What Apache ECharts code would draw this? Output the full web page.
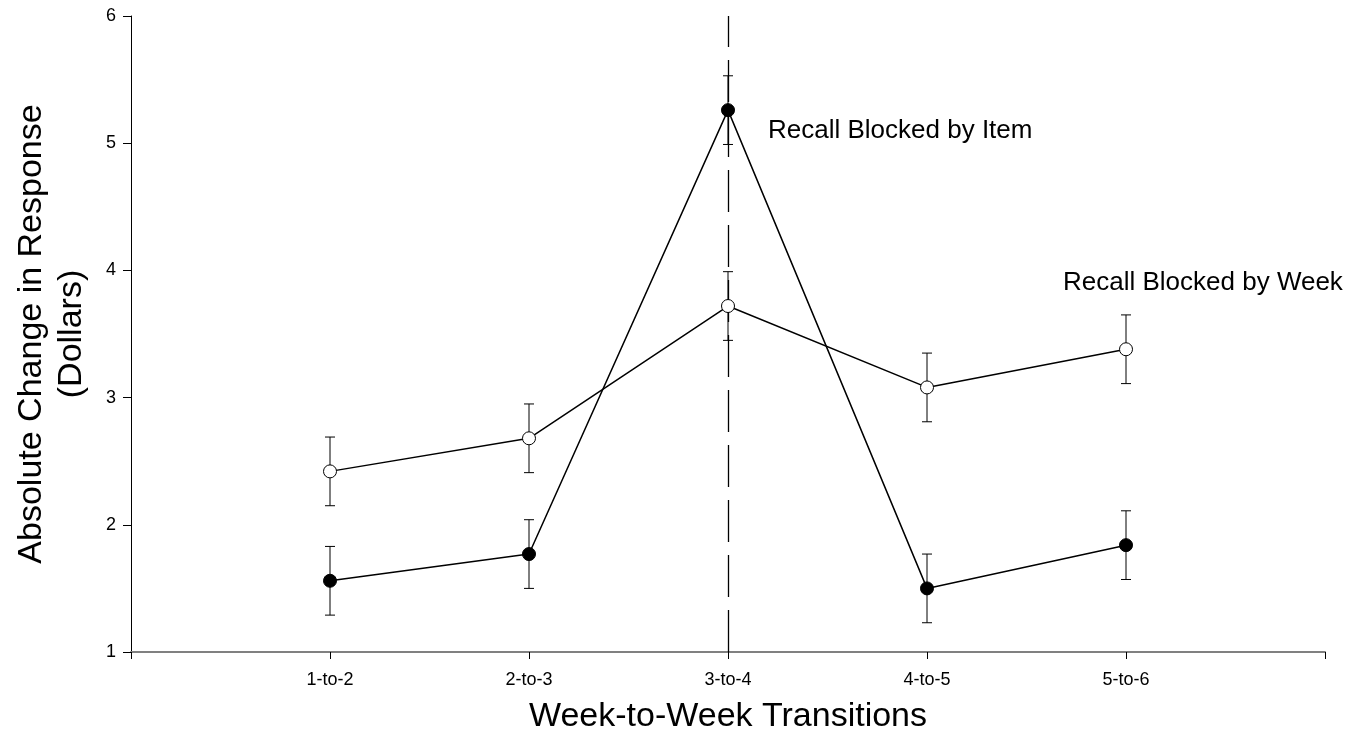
<!DOCTYPE html>
<html>
<head>
<meta charset="utf-8">
<script src="https://cdn.jsdelivr.net/npm/echarts@6/dist/echarts.min.js"></script>
<style>html,body{margin:0;padding:0;background:#fff;}#c{width:1357px;height:746px;}</style>
</head>
<body>
<div id="c"></div>
<script>
var categories = ['1-to-2', '2-to-3', '3-to-4', '4-to-5', '5-to-6'];
var itemValues = [1.56, 1.77, 5.26, 1.50, 1.84];
var itemErrors = [0.27, 0.27, 0.27, 0.27, 0.27];
var weekValues = [2.42, 2.68, 3.72, 3.08, 3.38];
var weekErrors = [0.27, 0.27, 0.27, 0.27, 0.27];
var yTicks = [1, 2, 3, 4, 5, 6];
var dividerAt = 3;

var FONT = '"Liberation Sans", Arial, sans-serif';
function pts(vals) { return vals.map(function (v, i) { return [i + 1, v]; }); }
function errs(vals, e) { return vals.map(function (v, i) { return [i + 1, v - e[i], v + e[i]]; }); }

function errRender(params, api) {
  var x = api.value(0);
  var lo = api.coord([x, api.value(1)]);
  var hi = api.coord([x, api.value(2)]);
  var w = 5;
  var st = { stroke: '#000', lineWidth: 1 };
  return { type: 'group', children: [
    { type: 'line', shape: { x1: lo[0], y1: lo[1], x2: hi[0], y2: hi[1] }, style: st },
    { type: 'line', shape: { x1: lo[0] - w, y1: lo[1], x2: lo[0] + w, y2: lo[1] }, style: st },
    { type: 'line', shape: { x1: hi[0] - w, y1: hi[1], x2: hi[0] + w, y2: hi[1] }, style: st }
  ]};
}

var chart = echarts.init(document.getElementById('c'));
chart.setOption({
  animation: false,
  backgroundColor: '#fff',
  grid: { left: 131, right: 32, top: 16, bottom: 94, containLabel: false },
  xAxis: {
    type: 'value', min: 0, max: categories.length + 1, interval: 1,
    splitLine: { show: false },
    axisLine: { onZero: false, lineStyle: { color: '#808080', width: 2 } },
    axisTick: { length: 7, lineStyle: { color: '#000', width: 1 } },
    axisLabel: { margin: 19, fontSize: 18, color: '#000', fontFamily: FONT,
      formatter: function (v) { return categories[v - 1] || ''; } },
    name: 'Week-to-Week Transitions', nameLocation: 'middle', nameGap: 48,
    nameTextStyle: { fontSize: 34, color: '#000', fontFamily: FONT }
  },
  yAxis: {
    type: 'value', min: yTicks[0], max: yTicks[yTicks.length - 1], interval: 1,
    splitLine: { show: false },
    axisLine: { show: true, lineStyle: { color: '#000', width: 1 } },
    axisTick: { show: true, length: 8, lineStyle: { color: '#000' } },
    axisLabel: { margin: 15, fontSize: 18, color: '#000', fontFamily: FONT },
    name: 'Absolute Change in Response\n(Dollars)', nameLocation: 'middle', nameGap: 39, nameRotate: 90,
    nameTextStyle: { fontSize: 34, color: '#000', fontFamily: FONT, lineHeight: 40 }
  },
  series: [
    { type: 'custom', renderItem: errRender, data: errs(itemValues, itemErrors), z: 2, silent: true },
    { type: 'custom', renderItem: errRender, data: errs(weekValues, weekErrors), z: 2, silent: true },
    {
      type: 'line', name: 'Recall Blocked by Item', data: pts(itemValues), z: 4,
      symbol: 'circle', symbolSize: 13,
      lineStyle: { color: '#000', width: 1.5 },
      itemStyle: { color: '#000', borderColor: '#000', borderWidth: 1 },
      markLine: { silent: true, symbol: 'none', label: { show: false },
        lineStyle: { color: '#000', width: 1.3, type: [42, 13] },
        data: [{ xAxis: dividerAt }] }
    },
    {
      type: 'line', name: 'Recall Blocked by Week', data: pts(weekValues), z: 5,
      symbol: 'circle', symbolSize: 13,
      lineStyle: { color: '#000', width: 1.5 },
      itemStyle: { color: '#fff', borderColor: '#000', borderWidth: 1 }
    }
  ]
});

var pItem = chart.convertToPixel({ gridIndex: 0 }, [3, itemValues[2]]);
var pWeek = chart.convertToPixel({ gridIndex: 0 }, [5, weekValues[4]]);
chart.setOption({
  graphic: [
    { type: 'text', left: pItem[0] + 40, top: pItem[1] + 8,
      style: { text: 'Recall Blocked by Item', fill: '#000', font: '26px ' + FONT } },
    { type: 'text', left: pWeek[0] - 63, top: pWeek[1] - 79,
      style: { text: 'Recall Blocked by Week', fill: '#000', font: '26px ' + FONT } }
  ]
});
</script>
</body>
</html>
